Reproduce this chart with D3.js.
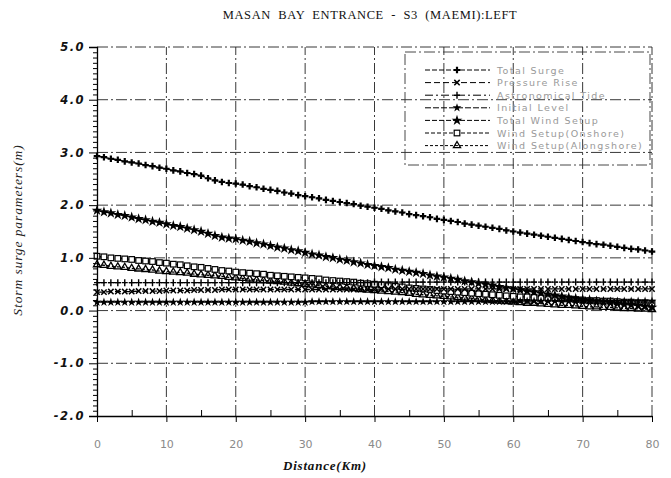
<!DOCTYPE html>
<html><head><meta charset="utf-8">
<script src="https://cdn.jsdelivr.net/npm/d3@7/dist/d3.min.js"></script>
<style>body{margin:0;background:#fff}svg{display:block}</style></head>
<body><svg id="c" width="671" height="478"></svg>
<script>
// ---- DATA ----
const distance = [0,1,2,3,4,5,6,7,8,9,10,11,12,13,14,15,16,17,18,19,20,21,22,23,24,25,26,27,28,29,30,31,32,33,34,35,36,37,38,39,40,41,42,43,44,45,46,47,48,49,50,51,52,53,54,55,56,57,58,59,60,61,62,63,64,65,66,67,68,69,70,71,72,73,74,75,76,77,78,79,80];
const totalSurge = [2.93,2.91,2.88,2.86,2.83,2.81,2.79,2.76,2.74,2.71,2.69,2.66,2.64,2.61,2.59,2.56,2.51,2.47,2.44,2.42,2.41,2.39,2.36,2.34,2.31,2.29,2.27,2.24,2.22,2.19,2.17,2.15,2.13,2.10,2.08,2.06,2.04,2.02,1.99,1.97,1.95,1.93,1.90,1.88,1.86,1.83,1.81,1.79,1.77,1.74,1.72,1.70,1.68,1.65,1.63,1.61,1.59,1.57,1.55,1.52,1.50,1.48,1.46,1.44,1.42,1.40,1.38,1.36,1.34,1.32,1.30,1.28,1.26,1.25,1.23,1.21,1.19,1.17,1.16,1.14,1.12];
const pressureRise = [0.35,0.35,0.36,0.36,0.36,0.36,0.37,0.37,0.37,0.37,0.38,0.38,0.38,0.38,0.39,0.39,0.39,0.39,0.40,0.40,0.40,0.40,0.40,0.40,0.40,0.40,0.40,0.40,0.40,0.40,0.40,0.40,0.40,0.40,0.40,0.40,0.40,0.40,0.40,0.40,0.40,0.41,0.41,0.41,0.41,0.41,0.41,0.41,0.41,0.41,0.41,0.41,0.41,0.41,0.41,0.41,0.41,0.41,0.41,0.41,0.41,0.41,0.41,0.41,0.41,0.41,0.41,0.41,0.41,0.41,0.41,0.41,0.41,0.41,0.41,0.41,0.41,0.41,0.41,0.41,0.41];
const astronomicalTide = [0.53,0.53,0.53,0.53,0.53,0.53,0.53,0.53,0.53,0.53,0.53,0.53,0.53,0.53,0.53,0.53,0.53,0.53,0.53,0.53,0.53,0.53,0.53,0.53,0.53,0.53,0.53,0.53,0.53,0.53,0.53,0.53,0.53,0.53,0.53,0.53,0.53,0.53,0.53,0.53,0.54,0.54,0.54,0.54,0.54,0.54,0.54,0.54,0.54,0.54,0.54,0.54,0.54,0.54,0.54,0.54,0.54,0.54,0.54,0.54,0.54,0.54,0.54,0.54,0.54,0.54,0.54,0.54,0.54,0.54,0.54,0.54,0.54,0.54,0.54,0.54,0.54,0.54,0.54,0.54,0.54];
const initialLevel = [0.16,0.16,0.16,0.16,0.16,0.16,0.16,0.16,0.16,0.16,0.16,0.16,0.16,0.16,0.16,0.16,0.16,0.16,0.16,0.16,0.16,0.16,0.16,0.16,0.16,0.16,0.16,0.16,0.16,0.16,0.16,0.17,0.17,0.17,0.17,0.17,0.17,0.17,0.17,0.17,0.17,0.17,0.17,0.17,0.17,0.17,0.17,0.17,0.17,0.17,0.17,0.17,0.17,0.17,0.17,0.17,0.17,0.17,0.17,0.17,0.17,0.18,0.18,0.18,0.18,0.18,0.18,0.18,0.18,0.18,0.18,0.18,0.18,0.18,0.18,0.18,0.18,0.18,0.18,0.18,0.18];
const totalWindSetup = [1.90,1.87,1.85,1.82,1.80,1.77,1.74,1.72,1.69,1.67,1.64,1.61,1.59,1.56,1.53,1.50,1.46,1.42,1.39,1.37,1.36,1.33,1.31,1.28,1.26,1.23,1.20,1.18,1.15,1.13,1.10,1.07,1.05,1.02,1.00,0.97,0.95,0.92,0.90,0.87,0.85,0.83,0.81,0.78,0.76,0.74,0.72,0.70,0.67,0.65,0.63,0.61,0.59,0.56,0.54,0.52,0.50,0.48,0.45,0.43,0.41,0.39,0.37,0.35,0.33,0.31,0.29,0.27,0.25,0.23,0.21,0.20,0.18,0.17,0.15,0.14,0.12,0.11,0.09,0.08,0.06];
const windSetupOnshore = [1.03,1.02,1.00,0.99,0.98,0.97,0.95,0.94,0.93,0.91,0.90,0.88,0.87,0.85,0.83,0.82,0.80,0.78,0.76,0.75,0.73,0.72,0.71,0.70,0.69,0.67,0.66,0.65,0.64,0.63,0.62,0.61,0.60,0.58,0.57,0.56,0.55,0.54,0.52,0.51,0.50,0.49,0.47,0.46,0.45,0.43,0.42,0.41,0.40,0.38,0.37,0.36,0.35,0.34,0.33,0.32,0.31,0.30,0.29,0.28,0.27,0.26,0.26,0.25,0.24,0.24,0.23,0.22,0.22,0.21,0.20,0.19,0.19,0.18,0.18,0.17,0.16,0.16,0.15,0.15,0.14];
const windSetupAlongshore = [0.87,0.86,0.84,0.83,0.82,0.80,0.79,0.78,0.77,0.75,0.74,0.73,0.72,0.71,0.69,0.68,0.67,0.66,0.65,0.63,0.62,0.61,0.60,0.58,0.57,0.56,0.55,0.54,0.52,0.51,0.50,0.49,0.48,0.46,0.45,0.44,0.43,0.42,0.40,0.39,0.38,0.37,0.36,0.35,0.34,0.33,0.31,0.30,0.29,0.28,0.27,0.26,0.25,0.24,0.23,0.22,0.20,0.19,0.18,0.17,0.16,0.15,0.14,0.14,0.13,0.12,0.11,0.10,0.10,0.09,0.08,0.07,0.07,0.06,0.06,0.05,0.04,0.04,0.03,0.03,0.02];
const seriesNames = ["Total Surge","Pressure Rise","Astronomical Tide","Initial Level","Total Wind Setup","Wind Setup(Onshore)","Wind Setup(Alongshore)"];
const xTicks = [0,10,20,30,40,50,60,70,80];
const xMinorTicks = [5,15,25,35,45,55,65,75];
const yTicks = [5,4,3,2,1,0,-1,-2];
const yTickLabels = ["5.0","4.0","3.0","2.0","1.0","0.0","-1.0","-2.0"];
const titleText = "MASAN  BAY  ENTRANCE  -  S3  (MAEMI):LEFT";
const xTitle = "Distance(Km)";
const yTitle = "Storm surge parameters(m)";

// ---- CHART ----
const svg = d3.select('#c');
const x = d3.scaleLinear().domain([0,80]).range([97,652]);
const y = d3.scaleLinear().domain([-2,5]).range([416,47]);

const series = [
  {name:seriesNames[0], values:totalSurge, marker:"crossFill", dash:"5,2"},
  {name:seriesNames[1], values:pressureRise, marker:"x", dash:"6,3"},
  {name:seriesNames[2], values:astronomicalTide, marker:"plus", dash:"8,3,2,3"},
  {name:seriesNames[3], values:initialLevel, marker:"starSmall", dash:"6,2"},
  {name:seriesNames[4], values:totalWindSetup, marker:"star", dash:"5,2"},
  {name:seriesNames[5], values:windSetupOnshore, marker:"square", dash:"4,2"},
  {name:seriesNames[6], values:windSetupAlongshore, marker:"triangle", dash:"3,2"}
];

// grid
const grid = svg.append('g').attr('stroke','#222').attr('stroke-width',0.9).attr('stroke-dasharray','11,3,2,3').attr('fill','none');
grid.selectAll('line.h').data(yTicks.filter(v=>v>-2)).join('line')
  .attr('x1',x(0)).attr('x2',x(80)).attr('y1',d=>y(d)).attr('y2',d=>y(d));
grid.selectAll('line.v').data(xTicks.filter(v=>v>0)).join('line')
  .attr('y1',y(-2)).attr('y2',y(5)).attr('x1',d=>x(d)).attr('x2',d=>x(d));

// markers
function drawMarker(g, type, cx, cy){
  if(type==="crossFill"){
    g.append('path').attr('d',d3.symbol(d3.symbolCross,24)()).attr('transform',`translate(${cx},${cy})`).attr('fill','#000');
  } else if(type==="x"){
    g.append('path').attr('d','M-2.7,-2.7L2.7,2.7M-2.7,2.7L2.7,-2.7').attr('transform',`translate(${cx},${cy})`).attr('stroke','#000').attr('stroke-width',1.5).attr('fill','none');
  } else if(type==="plus"){
    g.append('path').attr('d','M-3,0H3M0,-3.5V3.5').attr('transform',`translate(${cx},${cy})`).attr('stroke','#000').attr('stroke-width',1.4).attr('fill','none');
  } else if(type==="starSmall"){
    g.append('path').attr('d',d3.symbol(d3.symbolStar,24)()).attr('transform',`translate(${cx},${cy})`).attr('fill','#000');
  } else if(type==="star"){
    g.append('path').attr('d',d3.symbol(d3.symbolStar,36)()).attr('transform',`translate(${cx},${cy})`).attr('fill','#000');
  } else if(type==="square"){
    g.append('rect').attr('x',cx-2.8).attr('y',cy-2.8).attr('width',5.6).attr('height',5.6).attr('fill','#fff').attr('stroke','#000').attr('stroke-width',1.2);
  } else if(type==="triangle"){
    g.append('path').attr('d',d3.symbol(d3.symbolTriangle,22)()).attr('transform',`translate(${cx},${cy})`).attr('fill','none').attr('stroke','#000').attr('stroke-width',1.3);
  }
}

const line = d3.line().x((d,i)=>x(distance[i])).y(d=>y(d));
const plot = svg.append('g');
series.forEach(s=>{
  plot.append('path').attr('d',line(s.values)).attr('fill','none').attr('stroke','#000').attr('stroke-width',1.3).attr('stroke-dasharray',s.dash);
});
series.slice().reverse().forEach(s=>{
  const g = plot.append('g');
  s.values.forEach((v,i)=>drawMarker(g, s.marker, x(distance[i]), y(v)));
});

// axes
const yAxis = svg.append('g').attr('transform',`translate(${x(0)},0)`)
  .call(d3.axisLeft(y).tickValues(yTicks).tickFormat((d,i)=>yTickLabels[i]).tickSize(8).tickPadding(4));
const yMinor = [];
for(let i=0;i<yTicks.length-1;i++){ for(let k=1;k<10;k++){ yMinor.push(yTicks[i+1]+k/10); } }
svg.append('g').attr('transform',`translate(${x(0)},0)`)
  .call(d3.axisLeft(y).tickValues(yMinor).tickFormat('').tickSize(4).tickSizeOuter(0))
  .select('.domain').remove();
yAxis.selectAll('text').attr('font-family','DejaVu Sans').attr('font-weight','bold').attr('font-style','italic').attr('font-size',11.5).attr('letter-spacing',1.5).attr('fill','#111');
yAxis.selectAll('line').attr('stroke','#000');
yAxis.select('.domain').attr('stroke','#000').attr('stroke-width',1.3);

const xAxis = svg.append('g').attr('transform',`translate(0,${y(-2)})`)
  .call(d3.axisBottom(x).tickValues(xTicks).tickSize(6).tickPadding(18).tickSizeOuter(0));
xAxis.selectAll('text').attr('font-family','DejaVu Sans').attr('font-size',11).attr('fill','#8a8a8a');
xAxis.select('.domain').attr('stroke','#000').attr('stroke-width',1.3);
svg.append('g').attr('transform',`translate(0,${y(-2)})`)
  .call(d3.axisTop(x).tickValues(xMinorTicks).tickFormat('').tickSize(6).tickSizeOuter(0))
  .select('.domain').remove();

// legend
const lg = svg.append('g');
lg.append('rect').attr('x',405).attr('y',52).attr('width',245).attr('height',113)
  .attr('fill','none').attr('stroke','#333').attr('stroke-width',0.9).attr('stroke-dasharray','11,3,2,3');
series.forEach((s,i)=>{
  const ly = 70 + i*12.6;
  lg.append('line').attr('x1',425).attr('x2',490).attr('y1',ly).attr('y2',ly).attr('stroke','#000').attr('stroke-width',1).attr('stroke-dasharray',s.dash);
  drawMarker(lg, s.marker, 457, ly);
  lg.append('text').attr('x',497).attr('y',ly+3.5).text(s.name)
    .attr('font-family','DejaVu Sans').attr('font-size',9.5).attr('letter-spacing',1.4).attr('fill','#999');
});

// titles
svg.append('text').attr('x',370).attr('y',19).attr('text-anchor','middle').style('white-space','pre')
  .attr('font-family','Liberation Serif').attr('font-size',12.5).attr('letter-spacing',0.6).attr('fill','#111').text(titleText);
svg.append('text').attr('x',325).attr('y',470).attr('text-anchor','middle')
  .attr('font-family','Liberation Serif').attr('font-weight','bold').attr('font-style','italic').attr('font-size',13).attr('letter-spacing',0.8).attr('fill','#111').text(xTitle);
svg.append('text').attr('transform','translate(22,230) rotate(-90)').attr('text-anchor','middle')
  .attr('font-family','Liberation Serif').attr('font-style','italic').attr('font-size',13.5).attr('letter-spacing',0.9).attr('fill','#222').text(yTitle);
</script>
</body></html>
